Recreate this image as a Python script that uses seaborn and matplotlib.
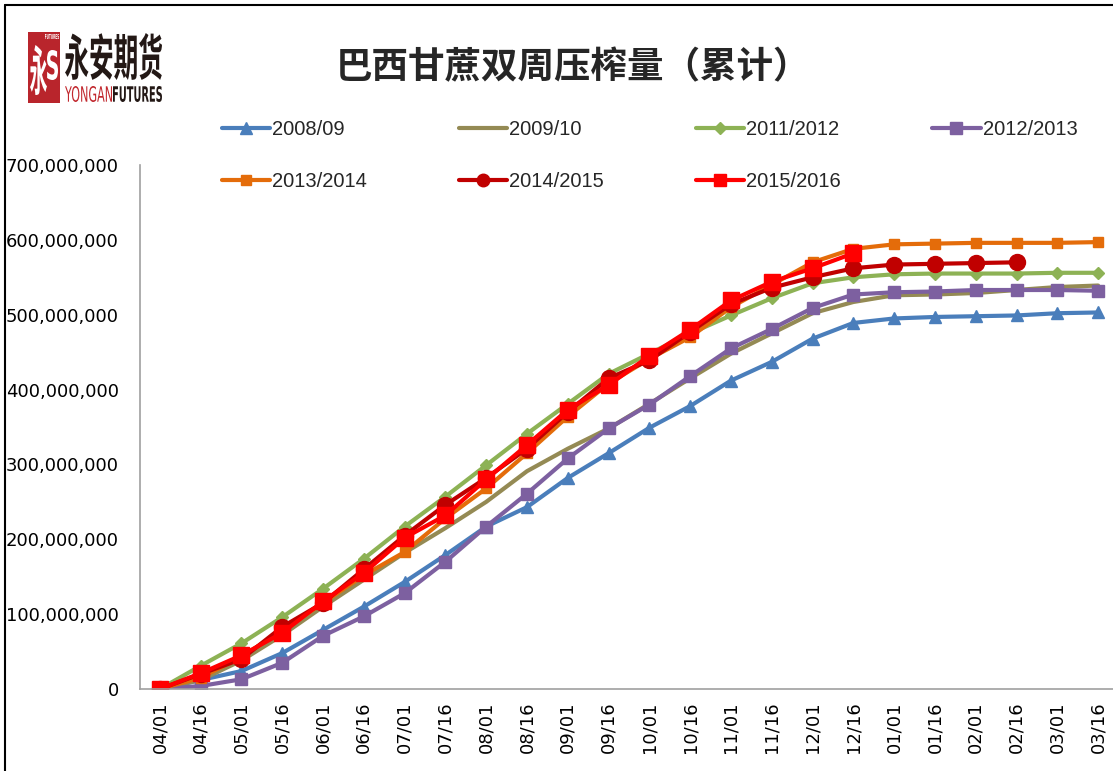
import numpy as np
import pandas as pd
import matplotlib
matplotlib.use("Agg")
import matplotlib.pyplot as plt
import seaborn as sns
from matplotlib.font_manager import FontProperties, fontManager
from matplotlib.textpath import TextPath
from matplotlib.patches import PathPatch, Rectangle
from matplotlib.transforms import Affine2D
from matplotlib.lines import Line2D
from matplotlib.ticker import FuncFormatter

# ---------------- data ----------------
periods = ["04/01", "04/16", "05/01", "05/16", "06/01", "06/16", "07/01", "07/16",
           "08/01", "08/16", "09/01", "09/16", "10/01", "10/16", "11/01", "11/16",
           "12/01", "12/16", "01/01", "01/16", "02/01", "02/16", "03/01", "03/16"]

s2008_09 = [0, 12, 24, 48, 79, 110, 143, 179, 217, 243, 282, 315, 349, 378, 412, 437,
            468, 489, 495, 497, 498, 499, 502, 503]
s2009_10 = [0, 12, 38, 72, 110, 146, 182, 215, 250, 291, 321, 348, 381, 415, 448, 475,
            502, 517, 526, 527, 529, 533, 537, 539]
s2011_2012 = [0, 31, 61, 96, 134, 174, 217, 257, 299, 341, 381, 421, 448, 475, 499, 522,
              542, 550, 554, 555, 555, 555, 556, 556]
s2012_2013 = [0, 4, 13, 35, 71, 97, 128, 170, 217, 261, 308, 348, 380, 418, 455, 481,
              509, 527, 530, 531, 533, 533, 533, 532]
s2013_2014 = [0, 15, 43, 78, 115, 152, 183, 228, 268, 315, 364, 408, 441, 470, 510, 540,
              570, 588, 594, 595, 596, 596, 596, 597]
s2014_2015 = [0, 20, 40, 83, 115, 160, 205, 246, 282, 321, 370, 415, 439, 477, 514, 536,
              550, 562, 567, 568, 569, 570, None, None]
s2015_2016 = [0, 21, 45, 75, 117, 155, 202, 232, 280, 326, 373, 406, 445, 480, 519, 544,
              562, 582, None, None, None, None, None, None]

series_names = ["2008/09", "2009/10", "2011/2012", "2012/2013",
                "2013/2014", "2014/2015", "2015/2016"]
series_values = [s2008_09, s2009_10, s2011_2012, s2012_2013,
                 s2013_2014, s2014_2015, s2015_2016]
unit = 1_000_000  # values above are in millions

title_text = "巴西甘蔗双周压榨量（累计）"
y_ticks = [0, 100, 200, 300, 400, 500, 600, 700]

# ---------------- styles ----------------
colors = ["#4A7EBB", "#948A54", "#8DB255", "#7D60A0", "#E46C0A", "#C00000", "#FF0000"]
markers = ["^", None, "D", "s", "s", "o", "s"]
msizes = [8, 0, 6.5, 8.5, 7, 11.5, 11.5]

W, H = 1113, 771
sns.set_theme(style="white")
plt.rcParams["font.family"] = ["DejaVu Sans", "Noto Sans CJK SC"]

fig = plt.figure(figsize=(W / 100, H / 100), dpi=100)
fig.patch.set_facecolor("white")
ax = fig.add_axes([139.5 / W, 82 / H, 979 / W, 524 / H])

rows = []
for name, vals in zip(series_names, series_values):
    for i, (p, v) in enumerate(zip(periods, vals)):
        rows.append({"season": name, "idx": i, "period": p,
                     "value": np.nan if v is None else v * unit})
df = pd.DataFrame(rows)

for name, c, m, ms in zip(series_names, colors, markers, msizes):
    sub = df[(df["season"] == name) & df["value"].notna()]
    sns.lineplot(data=sub, x="idx", y="value", ax=ax, color=c, linewidth=3.0,
                 marker=m if m else None, markersize=ms, markeredgecolor=c,
                 markeredgewidth=1, label=name, sort=False, legend=False)

ax.set_xlim(-0.5, len(periods) - 0.5)
ax.set_ylim(0, 700 * unit)
ax.set_xticks(range(len(periods)))
ax.set_xticklabels(periods, rotation=90, fontsize=13, color="black")
ax.set_yticks([t * unit for t in y_ticks])
ax.yaxis.set_major_formatter(FuncFormatter(lambda v, p: f"{v:,.0f}"))
ax.tick_params(axis="y", labelsize=13, pad=15, length=0, colors="black")
ax.tick_params(axis="x", pad=9, length=0)
ax.set_xlabel("")
ax.set_ylabel("")
ax.grid(False)
for side in ["top", "right"]:
    ax.spines[side].set_visible(False)
for side in ["left", "bottom"]:
    ax.spines[side].set_color("#A0A0A0")
    ax.spines[side].set_linewidth(1.2)

# legend (row-major order: matplotlib fills column by column)
names_avail = {f.name for f in fontManager.ttflist}
leg_family = "Liberation Sans Narrow" if "Liberation Sans Narrow" in names_avail else "Liberation Sans"
handles = [Line2D([], [], color=c, lw=3.0, marker=m if m else None,
                  markersize=min(ms, 9), markeredgecolor=c)
           for c, m, ms in zip(colors, markers, msizes)]
order = [0, 4, 1, 5, 2, 6, 3]
leg = fig.legend([handles[i] for i in order], [series_names[i] for i in order],
                 loc="upper left",
                 bbox_to_anchor=(222 / W, 1 - 120 / H), ncol=4, frameon=False,
                 prop=FontProperties(family=leg_family, size=14.5),
                 handlelength=2.4, handletextpad=0.1, columnspacing=4.55,
                 labelspacing=1.62, borderpad=0, borderaxespad=0)

# title
fig.text(573 / W, 1 - 68 / H, title_text, ha="center", va="center",
         fontsize=26.3, fontweight="bold", family=["Noto Sans CJK SC", "DejaVu Sans"])

# figure border (left and top visible)
fig.add_artist(Line2D([5 / W, 5 / W], [0, 1 - 5 / H], color="black", lw=1.5,
                      transform=fig.transFigure))
fig.add_artist(Line2D([5 / W, 1], [1 - 5 / H, 1 - 5 / H], color="black", lw=1.5,
                      transform=fig.transFigure))

# logo
pix = Affine2D().scale(1 / W, 1 / H) + fig.transFigure


def text_box(s, x0, y0, x1, y1, family, weight, color):
    tp = TextPath((0, 0), s, size=100, prop=FontProperties(family=family, weight=weight))
    bb = tp.get_extents()
    tr = (Affine2D().translate(-bb.x0, -bb.y0)
          .scale((x1 - x0) / bb.width, (y1 - y0) / bb.height)
          .translate(x0, H - y1))
    fig.add_artist(PathPatch(tr.transform_path(tp), fc=color, ec="none", transform=pix))


fig.add_artist(Rectangle((28 / W, 1 - 103 / H), 32 / W, 71 / H, fc="#B9252C",
                         ec="none", transform=fig.transFigure))
text_box("永", 30, 45, 47, 95, "Noto Sans CJK SC", "bold", "white")
text_box("S", 47, 50, 58, 80, "DejaVu Sans", "bold", "white")
text_box("FUTURES", 45, 34, 59, 39, "DejaVu Sans", "bold", "white")
text_box("永安期货", 65, 33, 162, 80, "Noto Sans CJK SC", "bold", "#231815")
text_box("YONGAN", 65, 86, 112, 102, "DejaVu Sans", "normal", "#C1272D")
text_box("FUTURES", 113, 86, 162, 102, "DejaVu Sans", "bold", "#231815")

fig.savefig("out.png", dpi=100, facecolor="white")
